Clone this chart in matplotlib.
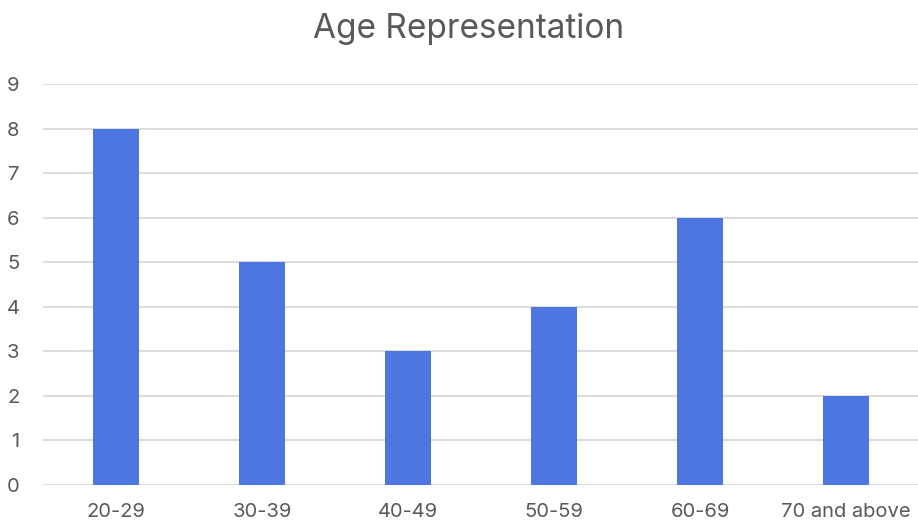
import numpy as np
import matplotlib.pyplot as plt

labels = ['20-29', '30-39', '40-49', '50-59', '60-69', '70 and above']
counts = [8, 5, 3, 4, 6, 2]

plt.rcParams['font.family'] = ['Inter', 'DejaVu Sans']
text_color = '#595959'
bar_color = '#4E76E0'

fig = plt.figure(figsize=(9.18, 5.29), dpi=100)
ax = fig.add_axes([43 / 918, 1 - 485 / 529, 876 / 918, 401 / 529])

ind = np.arange(len(counts))
ax.bar(ind, counts, 0.315, color=bar_color, zorder=3)

ax.set_xlim(-0.5, len(counts) - 0.5)
ax.set_ylim(0, 9)
ax.set_yticks(range(0, 10))
ax.set_xticks(ind)
ax.set_xticklabels(labels)

ax.yaxis.grid(True, color='#d9d9d9', linewidth=1.3, zorder=0)
for side in ['top', 'right', 'left', 'bottom']:
    ax.spines[side].set_visible(False)
ax.tick_params(axis='both', length=0, labelsize=14.5, colors=text_color)
ax.tick_params(axis='y', pad=17)
ax.tick_params(axis='x', pad=13)

fig.text(469 / 918, 1 - 29 / 529, 'Age Representation', ha='center', va='center',
         fontsize=24, color=text_color)

fig.savefig('out.png', dpi=100, facecolor='white')
